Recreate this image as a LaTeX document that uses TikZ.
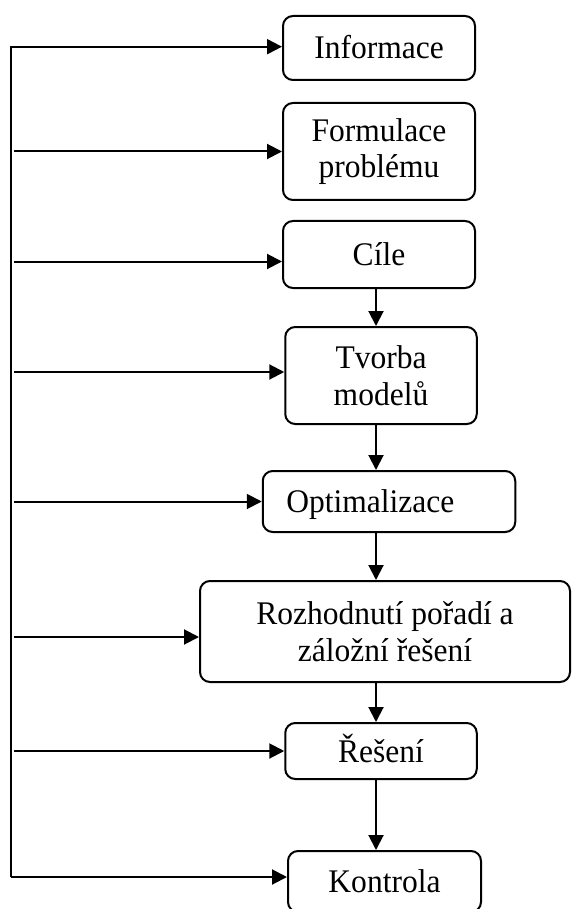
\documentclass[tikz,border=0pt]{standalone}
\usepackage{fontspec}
\setmainfont{Liberation Serif}[FakeStretch=0.955]
\usetikzlibrary{arrows.meta}
\begin{document}
\begin{tikzpicture}[x=1pt,y=-1pt,
  box/.style={draw, line width=2pt, rounded corners=10pt, inner sep=0pt, align=center,
              font=\fontsize{33}{36.5}\selectfont},
  one/.style={text height=22pt, text depth=0pt},
  arr/.style={line width=2pt, -{Triangle[length=15pt,width=15pt]}}]
\useasboundingbox (0,0) rectangle (572,909);
\node[box, one, minimum width=192pt, minimum height=64pt] (info) at (379,48) {Informace};
\node[box, minimum width=192pt, minimum height=97pt] (form) at (379,151.5) {Formulace\\problému};
\node[box, one, minimum width=192pt, minimum height=67pt] (cile) at (379,254.5) {Cíle};
\node[box, minimum width=191.5pt, minimum height=97pt] (tvorba) at (381,375.5) {Tvorba\\modelů};
\node[box, one, align=left, inner xsep=23.5pt, text width=205.5pt, minimum height=61pt] (opt) at (389,501.5) {Optimalizace};
\node[box, minimum width=370pt, minimum height=101pt] (rozh) at (385,631.5) {Rozhodnutí pořadí a\\záložní řešení};
\node[box, one, minimum width=191.5pt, minimum height=56pt] (res) at (381,751) {Řešení};
\node[box, one, minimum width=193pt, minimum height=61pt] (kon) at (384.5,881.5) {Kontrola};

\coordinate (L) at (11,0);
\coordinate (Lm) at (14,0);
\coordinate (A) at (376,0);
\coordinate (kin) at ([yshift=4.5pt]kon.west);
\coordinate (iin) at ([yshift=1.3pt]info.west);
\coordinate (cin) at ([yshift=-7pt]cile.west);
\coordinate (tin) at ([yshift=3.5pt]tvorba.west);
\coordinate (rin) at ([yshift=-5.5pt]rozh.west);

\draw[arr] (L |- kin) -- (kin);
\draw[arr] (L |- kin) |- (iin);
\draw[arr] (Lm |- form.west) -- (form.west);
\draw[arr] (Lm |- cin) -- (cin);
\draw[arr] (Lm |- tin) -- (tin);
\draw[arr] (Lm |- opt.west) -- (opt.west);
\draw[arr] (Lm |- rin) -- (rin);
\draw[arr] (Lm |- res.west) -- (res.west);

\draw[arr] (cile.south -| A) -- (tvorba.north -| A);
\draw[arr] (tvorba.south -| A) -- (opt.north -| A);
\draw[arr] (opt.south -| A) -- (rozh.north -| A);
\draw[arr] (rozh.south -| A) -- (res.north -| A);
\draw[arr] (res.south -| A) -- (kon.north -| A);
\end{tikzpicture}
\end{document}
